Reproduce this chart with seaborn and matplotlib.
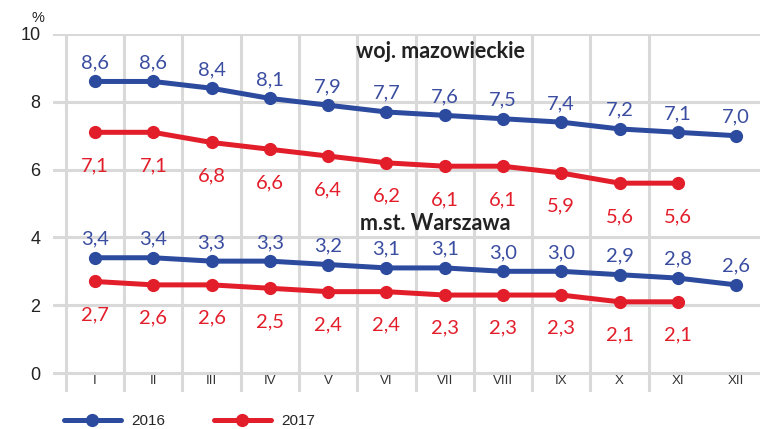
import numpy as np
import pandas as pd
import seaborn as sns
import matplotlib.pyplot as plt
from matplotlib.lines import Line2D

months = ["I", "II", "III", "IV", "V", "VI", "VII", "VIII", "IX", "X", "XI", "XII"]
maz_2016 = [8.6, 8.6, 8.4, 8.1, 7.9, 7.7, 7.6, 7.5, 7.4, 7.2, 7.1, 7.0]
maz_2017 = [7.1, 7.1, 6.8, 6.6, 6.4, 6.2, 6.1, 6.1, 5.9, 5.6, 5.6]
waw_2016 = [3.4, 3.4, 3.3, 3.3, 3.2, 3.1, 3.1, 3.0, 3.0, 2.9, 2.8, 2.6]
waw_2017 = [2.7, 2.6, 2.6, 2.5, 2.4, 2.4, 2.3, 2.3, 2.3, 2.1, 2.1]

BLUE = "#2C4A9E"
RED = "#E31E2B"
GRID = "#D9D9D9"

rows = []
for region, year, vals in [("maz", "2016", maz_2016), ("maz", "2017", maz_2017),
                           ("waw", "2016", waw_2016), ("waw", "2017", waw_2017)]:
    for i, v in enumerate(vals):
        rows.append({"region": region, "year": year, "idx": i, "month": months[i], "value": v})
df = pd.DataFrame(rows)

sns.set_style("white")
plt.rcParams["font.family"] = ["Liberation Sans", "DejaVu Sans"]

fig = plt.figure(figsize=(7.6, 4.29), dpi=100)
ax = fig.add_axes([53 / 760, 1 - 392 / 429, 707 / 760, 358 / 429])

# grid drawn by hand: horizontal at y ticks, vertical between months
for y in range(0, 11, 2):
    ax.axhline(y, color=GRID, lw=2.2, zorder=0)
for i in range(len(months) - 1):
    ax.axvline(i - 0.5, ymin=0, ymax=1, color=GRID, lw=2.2, zorder=0)

sns.lineplot(data=df, x="idx", y="value", hue="year", units="region", estimator=None,
             palette={"2016": BLUE, "2017": RED}, marker="o", markersize=9.5,
             markeredgewidth=0, lw=3.6, legend=False, ax=ax, zorder=3)

for _, r in df.iterrows():
    up = r["year"] == "2016"
    ax.annotate(f"{r['value']:.1f}".replace(".", ","), (r["idx"], r["value"]),
                xytext=(0, 13.5 if up else -24), textcoords="offset points",
                ha="center", va="center", fontsize=14.5, family="Lato",
                color="#3A4DA0" if up else RED, annotation_clip=False)

ax.text(5.93, 9.47, "woj. mazowieckie", ha="center", va="center", fontsize=15.5,
        family="Lato", fontweight="bold", color="#222222")
ax.text(5.84, 4.4, "m.st. Warszawa", ha="center", va="center", fontsize=15.5,
        family="Lato", fontweight="bold", color="#222222")

ax.set_xlim(-0.72, 11.41)
ax.set_ylim(-0.56, 10)
ax.set_yticks(range(0, 11, 2))
ax.set_yticklabels([str(v) for v in range(0, 11, 2)], fontsize=13, color="#222222")
ax.set_xticks(range(len(months)))
ax.set_xticklabels(months, fontsize=9.5, color="#333333")
ax.tick_params(axis="y", length=0, pad=9)
ax.tick_params(axis="x", length=0, pad=-12)
ax.set_xlabel("")
ax.set_ylabel("")
sns.despine(ax=ax, left=True, bottom=True)

fig.text(38 / 760, 1 - 18 / 429, "%", ha="center", va="center", fontsize=10.5, color="#222222")

handles = [Line2D([], [], color=BLUE, lw=3.6, marker="o", markersize=9.5, markeredgewidth=0),
           Line2D([], [], color=RED, lw=3.6, marker="o", markersize=9.5, markeredgewidth=0)]
fig.legend(handles, ["2016", "2017"], loc="center left", bbox_to_anchor=(64 / 760, 1 - 421 / 429),
           ncol=2, frameon=False, fontsize=11, handlelength=3.7, handletextpad=0.7,
           columnspacing=3.2, borderpad=0, borderaxespad=0)

fig.savefig("out.png", dpi=100)
